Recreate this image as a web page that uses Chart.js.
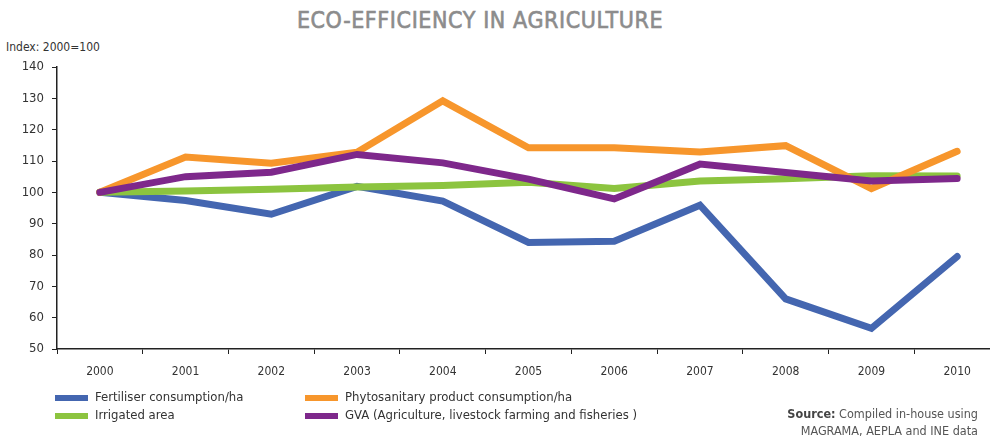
<!DOCTYPE html>
<html>
<head>
<meta charset="utf-8">
<script src="https://cdn.jsdelivr.net/npm/chart.js@4/dist/chart.umd.min.js"></script>
<style>
  html, body { margin: 0; padding: 0; background: #fff; overflow: hidden; }
  body { width: 990px; height: 438px; position: relative;
         font-family: "DejaVu Sans Condensed", "Liberation Sans Narrow", "DejaVu Sans", sans-serif; }
  #wrap { position: absolute; left: 0; top: 0; width: 1000px; height: 438px; }
  .title { position: absolute; left: 0; width: 960px; top: 7px; text-align: center;
           font-size: 23px; color: #8c8c8c; letter-spacing: 0.6px;
           -webkit-text-stroke: 0.6px #8c8c8c; }
  .unit { position: absolute; left: 6px; top: 40px; font-size: 12px; color: #333; }
  .legend { position: absolute; left: 55px; top: 389px; font-size: 13px; color: #333; }
  .legend .item { position: absolute; white-space: nowrap; }
  .legend .sw { display: inline-block; width: 33px; height: 6px; vertical-align: middle; margin-right: 7px; }
  .source { position: absolute; right: 12px; top: 405px; text-align: right; font-size: 12.5px; color: #555; line-height: 17px; }
  .source b { color: #444; }
</style>
</head>
<body>
<div class="title">ECO-EFFICIENCY IN AGRICULTURE</div>
<div class="unit">Index: 2000=100</div>
<div id="wrap"><canvas id="chart"></canvas></div>
<div class="legend" id="legend"></div>
<div class="source"><b>Source:</b> Compiled in-house using<br>MAGRAMA, AEPLA and INE data</div>

<script>
const years = ["2000", "2001", "2002", "2003", "2004", "2005", "2006", "2007", "2008", "2009", "2010"];

const fertiliser    = [100, 97.4, 93.0, 101.9, 97.2, 84.0, 84.4, 95.9, 66.0, 56.6, 79.5];
const phytosanitary = [100, 111.3, 109.3, 112.8, 129.2, 114.2, 114.2, 112.9, 114.9, 101.2, 113.1];
const irrigated     = [100, 100.4, 101.0, 101.7, 102.2, 103.2, 101.2, 103.6, 104.3, 105.3, 105.2];
const gva           = [100, 105.0, 106.4, 112.1, 109.4, 104.2, 97.9, 109.0, 106.3, 103.6, 104.4];

const yTicks = [50, 60, 70, 80, 90, 100, 110, 120, 130, 140];

const series = [
  { label: "Fertiliser consumption/ha", data: fertiliser, color: "#4466b0", order: 4 },
  { label: "Phytosanitary product consumption/ha", data: phytosanitary, color: "#f7962c", order: 2 },
  { label: "Irrigated area", data: irrigated, color: "#8cc43f", order: 3 },
  { label: "GVA (Agriculture, livestock farming and fisheries )", data: gva, color: "#7e288b", order: 1 }
];

const font = "'DejaVu Sans Condensed', 'Liberation Sans Narrow', 'DejaVu Sans', sans-serif";

// legend: two columns, two rows
const legendPos = [[0, 0], [250, 0], [0, 18], [250, 18]];
const legend = document.getElementById("legend");
series.forEach((s, i) => {
  const el = document.createElement("div");
  el.className = "item";
  el.style.left = legendPos[i][0] + "px";
  el.style.top = legendPos[i][1] + "px";
  el.innerHTML = '<span class="sw" style="background:' + s.color + '"></span>' + s.label;
  legend.appendChild(el);
});

const ctx = document.getElementById("chart");

new Chart(ctx, {
  type: "line",
  data: {
    labels: years,
    datasets: series.map(s => ({
      label: s.label,
      data: s.data,
      borderColor: s.color,
      backgroundColor: s.color,
      borderWidth: 7,
      borderCapStyle: "round",
      pointRadius: 0,
      tension: 0,
      order: s.order
    }))
  },
  options: {
    responsive: true,
    maintainAspectRatio: false,
    animation: false,
    layout: { padding: { top: 67, right: 0, bottom: 59, left: 0 } },
    plugins: {
      legend: { display: false },
      tooltip: { enabled: false }
    },
    scales: {
      x: {
        offset: true,
        border: { color: "#222", width: 1.5 },
        grid: { display: true, drawOnChartArea: false, drawTicks: true, tickLength: 5, tickColor: "#222", offset: true },
        ticks: { color: "#333", font: { family: font, size: 12 }, padding: 11, maxRotation: 0 },
        afterFit: scale => { scale.height = 30; }
      },
      y: {
        min: 50,
        max: 140,
        afterBuildTicks: scale => { scale.ticks = yTicks.map(v => ({ value: v })); },
        border: { color: "#222", width: 1.5 },
        grid: { display: true, drawOnChartArea: false, drawTicks: true, tickLength: 5, tickColor: "#222" },
        ticks: { color: "#333", font: { family: font, size: 13 }, padding: 8 },
        afterFit: scale => { scale.width = 57; }
      }
    }
  }
});
</script>
</body>
</html>
